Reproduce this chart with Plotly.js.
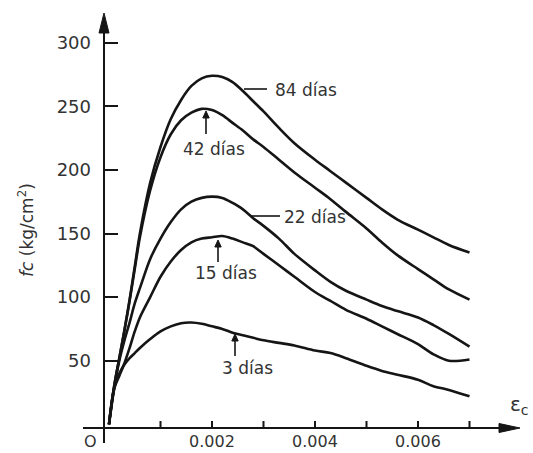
<!DOCTYPE html>
<html><head><meta charset="utf-8">
<script src="https://cdn.plot.ly/plotly-3.0.1.min.js"></script>
<style>html,body{margin:0;padding:0;background:#fff;}#chart{width:533px;height:453px;}</style>
</head><body><div id="chart"></div>
<script>
// ---- data ----
const strain = [0, 0.0001, 0.0002, 0.0003, 0.0004, 0.0005, 0.0006, 0.0008, 0.001, 0.0012, 0.0014, 0.0016, 0.0018, 0.002, 0.0022, 0.0024, 0.0026, 0.0028, 0.003, 0.0033, 0.0036, 0.004, 0.0043, 0.0046, 0.005, 0.0053, 0.0056, 0.006, 0.0063, 0.0066, 0.007];
const fc84 = [0, 30, 52, 74, 98, 124, 150, 190, 218, 240, 255, 266, 272, 274, 273, 269, 262, 254, 246, 233, 221, 208, 199, 190, 178, 169, 161, 153, 147, 141, 135];
const fc42 = [0, 30, 52, 74, 97, 122, 147, 184, 210, 228, 239, 245, 248, 247, 243, 237, 231, 224, 218, 208, 198, 186, 177, 167, 154, 143, 133, 122, 114, 106, 98];
const fc22 = [0, 28, 50, 66, 80, 95, 107, 130, 146, 159, 169, 175, 178, 179, 178, 174, 169, 162, 156, 146, 134, 121, 112, 105, 98, 93, 89, 84, 78, 71, 61];
const fc15 = [0, 28, 38, 48, 60, 73, 84, 100, 116, 128, 137, 143, 146, 147, 148, 146, 143, 140, 134, 125, 116, 104, 97, 90, 83, 77, 71, 63, 55, 50, 51];
const fc3 = [0, 28, 40, 47, 52, 56, 60, 67, 73, 77, 79.5, 80, 79, 77, 75, 72, 70, 68, 66, 64, 62, 58, 56, 52, 46, 42, 39, 35, 30, 27, 22];
const seriesNames = ['84 días', '42 días', '22 días', '15 días', '3 días'];
const seriesValues = [fc84, fc42, fc22, fc15, fc3];
const yTickVals = [50, 100, 150, 200, 250, 300];
const yTickText = ['50', '100', '150', '200', '250', '300'];
const xTickVals = [0.002, 0.004, 0.006];
const xTickText = ['0.002', '0.004', '0.006'];
const xUnlabelledTicks = [0.001, 0.003, 0.005, 0.007];
const yTitleText = '<i>fc</i> (kg/cm<sup>2</sup>)';
const xTitleText = 'ε<sub>c</sub>';
const originText = 'O';

// ---- layout helpers (pixel -> paper) ----
const W = 533, H = 453, L = 104, R = 14, T = 13, B = 25;
const PW = W - L - R, PH = H - T - B;
const px = p => (p - L) / PW;
const py = p => (H - B - p) / PH;
const FONT = 'DejaVu Sans';
const INK = '#151515';
const TXT = '#333333';

const traces = seriesValues.map((vals, i) => ({
  type: 'scatter', mode: 'lines', name: seriesNames[i],
  x: strain, y: vals,
  line: {color: INK, width: 2.6, shape: 'spline', smoothing: 0.9},
  hoverinfo: 'skip'
}));

const tri = (pts) => 'M' + pts.map(p => px(p[0]) + ',' + py(p[1])).join('L') + 'Z';
const seg = (x0, y0, x1, y1, w) => ({type: 'line', xref: 'paper', yref: 'paper',
  x0: px(x0), x1: px(x1), y0: py(y0), y1: py(y1), line: {color: INK, width: w}});
const head = (pts) => ({type: 'path', xref: 'paper', yref: 'paper', path: tri(pts),
  fillcolor: INK, line: {color: INK, width: 1}});
const upArrow = (x, yTip, len) => [seg(x, yTip + 5, x, yTip + len, 1.6),
  head([[x, yTip], [x - 3.2, yTip + 7], [x + 3.2, yTip + 7]])];
const minorTicks = xUnlabelledTicks.map(v => ({type: 'line', xref: 'x', yref: 'paper',
  x0: v, x1: v, y0: py(428), y1: py(421), line: {color: INK, width: 2}}));

const shapes = [
  seg(83, 428, 503, 428, 2),
  seg(104, 443, 104, 28, 2),
  head([[104, 13], [99, 33], [109, 33]]),
  head([[520, 428], [499, 423.5], [499, 432.5]]),
  ...minorTicks,
  seg(244, 89, 267, 89, 1.6),
  seg(251, 216, 280, 216, 1.6),
  ...upArrow(206, 111, 23),
  ...upArrow(218, 240, 22),
  ...upArrow(235, 334, 22)
];

const lbl = (text, x, y, xanchor) => ({
  text: text, xref: 'paper', yref: 'paper', x: px(x), y: py(y),
  xanchor: xanchor, yanchor: 'middle', showarrow: false,
  font: {family: FONT, size: 17, color: TXT}
});

const annotations = [
  lbl(seriesNames[0], 273, 90, 'left'),
  lbl(seriesNames[1], 214, 149, 'center'),
  lbl(seriesNames[2], 282, 217, 'left'),
  lbl(seriesNames[3], 226, 273, 'center'),
  lbl(seriesNames[4], 247, 368, 'center'),
  {text: yTitleText, xref: 'paper', yref: 'paper', x: px(26), y: py(230), textangle: -90,
   xanchor: 'center', yanchor: 'middle', showarrow: false, font: {family: FONT, size: 17, color: TXT}},
  {text: xTitleText, xref: 'paper', yref: 'paper', x: px(519), y: py(405),
   xanchor: 'center', yanchor: 'middle', showarrow: false, font: {family: FONT, size: 20, color: TXT}},
  {text: originText, xref: 'paper', yref: 'paper', x: px(90), y: py(441),
   xanchor: 'center', yanchor: 'middle', showarrow: false, font: {family: FONT, size: 16, color: TXT}}
];

const layout = {
  width: W, height: H,
  margin: {l: L, r: R, t: T, b: B, pad: 0},
  paper_bgcolor: '#ffffff', plot_bgcolor: '#ffffff',
  showlegend: false,
  xaxis: {
    range: [(L - 109) / 51500, (W - R - 109) / 51500],
    showgrid: false, zeroline: false, showline: false,
    ticks: 'inside', ticklen: 7, tickwidth: 2, tickcolor: INK,
    tickmode: 'array', tickvals: xTickVals, ticktext: xTickText,
    tickfont: {family: FONT, size: 16, color: TXT}, ticklabelstandoff: 2,
    fixedrange: true
  },
  yaxis: {
    range: [(424.3 - 428) / 1.272, (424.3 - 13) / 1.272],
    showgrid: false, zeroline: false, showline: false,
    ticks: 'inside', ticklen: 14, tickwidth: 2, tickcolor: INK,
    tickmode: 'array', tickvals: yTickVals, ticktext: yTickText,
    tickfont: {family: FONT, size: 18, color: TXT}, ticklabelstandoff: 12,
    fixedrange: true
  },
  shapes: shapes,
  annotations: annotations
};

Plotly.newPlot('chart', traces, layout, {displayModeBar: false, staticPlot: true});
</script>
</body></html>
